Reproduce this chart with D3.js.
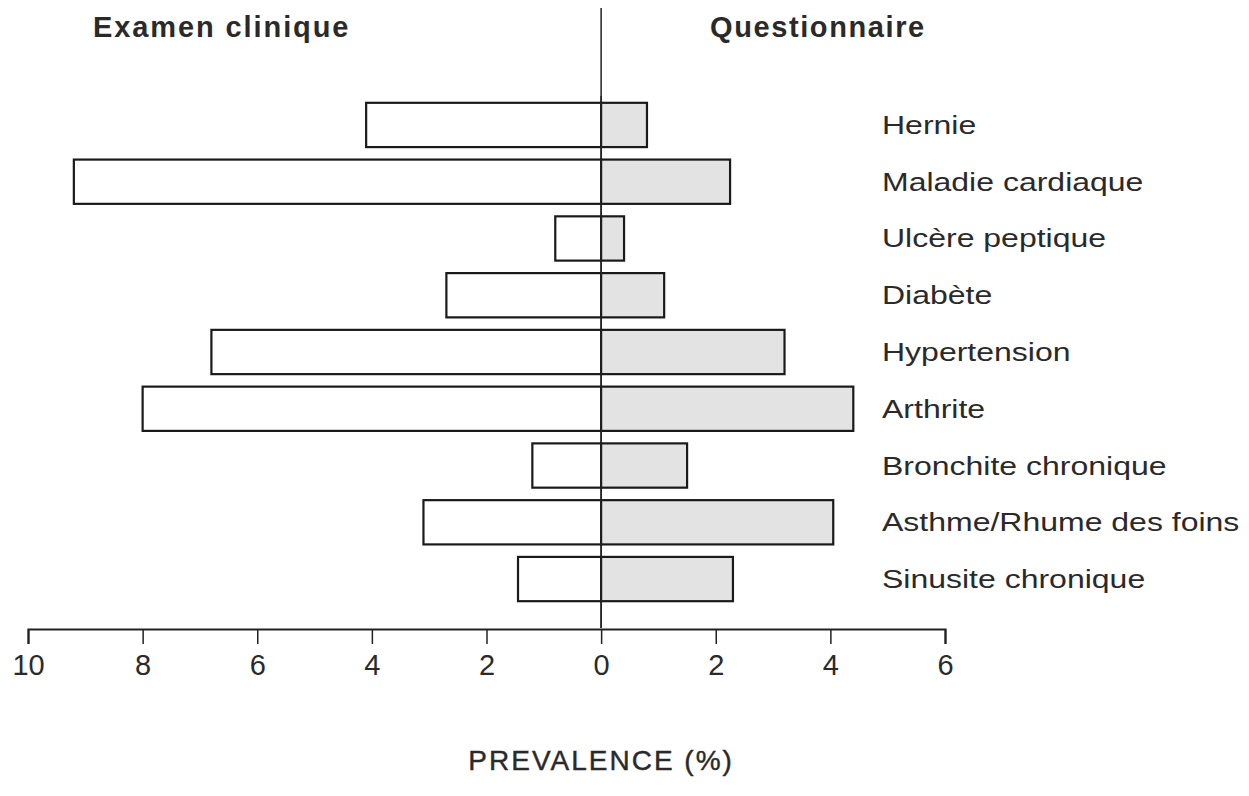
<!DOCTYPE html>
<html>
<head>
<meta charset="utf-8">
<script src="https://cdn.jsdelivr.net/npm/d3@7.9.0/dist/d3.min.js"></script>
<style>
  body { margin: 0; background: #fff; }
  svg text { font-family: "Liberation Sans", Arial, sans-serif; fill: #2a2a2a; }
</style>
</head>
<body>
<svg id="chart" width="1249" height="796"></svg>
<script>
// categories, top to bottom
const categories = [
  "Hernie", "Maladie cardiaque", "Ulcère peptique", "Diabète", "Hypertension",
  "Arthrite", "Bronchite chronique", "Asthme/Rhume des foins", "Sinusite chronique"
];
// prevalence (%) found by clinical exam (left side)
const examen = [4.1, 9.2, 0.8, 2.7, 6.8, 8.0, 1.2, 3.1, 1.45];
// prevalence (%) reported by questionnaire (right side)
const questionnaire = [0.8, 2.25, 0.4, 1.1, 3.2, 4.4, 1.5, 4.05, 2.3];
const tickValues = [-10, -8, -6, -4, -2, 0, 2, 4, 6];

const svg = d3.select('#chart');

// x: negative values go left (exam), positive right (questionnaire)
const x = d3.scaleLinear().domain([-10, 6]).range([28, 945]);
const y = d3.scaleBand().domain(categories).range([96, 608]).paddingInner(0.22).paddingOuter(0.12);

// center line
svg.append('line')
  .attr('x1', x(0)).attr('x2', x(0))
  .attr('y1', 8).attr('y2', 628)
  .attr('stroke', '#222').attr('stroke-width', 1.5);

// exam bars (white, outlined)
svg.selectAll('rect.exam')
  .data(categories)
  .join('rect')
  .attr('class', 'exam')
  .attr('x', (d, i) => x(-examen[i]))
  .attr('y', d => y(d))
  .attr('width', (d, i) => x(0) - x(-examen[i]))
  .attr('height', y.bandwidth())
  .attr('fill', '#fff')
  .attr('stroke', '#1a1a1a')
  .attr('stroke-width', 2.2);

// questionnaire bars (grey stipple)
svg.selectAll('rect.quest')
  .data(categories)
  .join('rect')
  .attr('class', 'quest')
  .attr('x', x(0))
  .attr('y', d => y(d))
  .attr('width', (d, i) => x(questionnaire[i]) - x(0))
  .attr('height', y.bandwidth())
  .attr('fill', '#e3e3e3')
  .attr('stroke', '#1a1a1a')
  .attr('stroke-width', 2.2);

// redraw center line over bars
svg.append('line')
  .attr('x1', x(0)).attr('x2', x(0))
  .attr('y1', 96).attr('y2', 628)
  .attr('stroke', '#222').attr('stroke-width', 1.5);

// category labels (the print face is wide, so stretch it a bit)
svg.selectAll('text.cat')
  .data(categories)
  .join('text')
  .attr('class', 'cat')
  .attr('transform', d => `translate(882,${y(d) + y.bandwidth() / 2}) scale(1.28,1)`)
  .attr('dy', '0.36em')
  .attr('font-size', 25)
  .attr('fill', '#333')
  .text(d => d);

// x axis
const axis = d3.axisBottom(x)
  .tickValues(tickValues)
  .tickSize(15)
  .tickPadding(10)
  .tickFormat(d => Math.abs(d));

const gAxis = svg.append('g')
  .attr('transform', 'translate(0,629)')
  .call(axis);
gAxis.select('.domain').attr('stroke', '#222').attr('stroke-width', 2.2);
gAxis.selectAll('.tick line').attr('stroke', '#222').attr('stroke-width', 1.5);
gAxis.selectAll('.tick text')
  .attr('font-size', 29)
  .attr('font-family', '"Liberation Sans", Arial, sans-serif')
  .attr('fill', '#333');

// titles
svg.append('text')
  .attr('x', 93).attr('y', 37)
  .attr('font-size', 29).attr('font-weight', 'bold')
  .attr('letter-spacing', 1.9)
  .text('Examen clinique');
svg.append('text')
  .attr('x', 710).attr('y', 37)
  .attr('font-size', 29).attr('font-weight', 'bold')
  .attr('letter-spacing', 1.6)
  .text('Questionnaire');

// axis title
svg.append('text')
  .attr('x', x(0)).attr('y', 770)
  .attr('text-anchor', 'middle')
  .attr('font-size', 28)
  .attr('letter-spacing', 2)
  .attr('stroke', '#2a2a2a').attr('stroke-width', 0.4)
  .text('PREVALENCE (%)');
</script>
</body>
</html>
